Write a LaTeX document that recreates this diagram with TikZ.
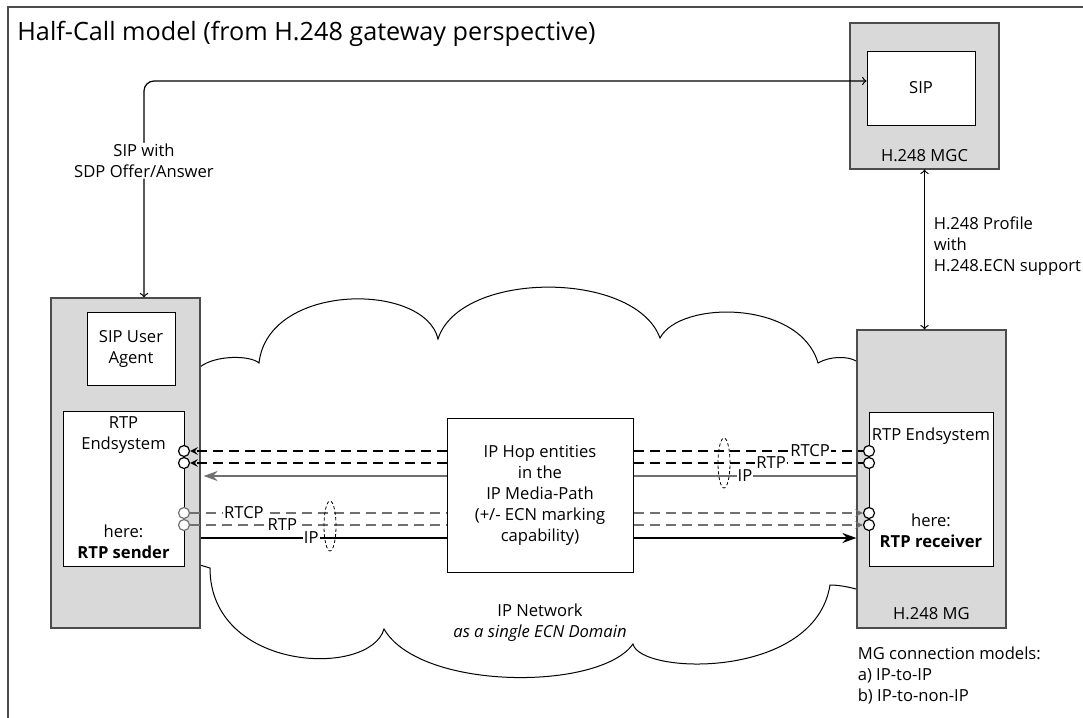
\documentclass[tikz,border=0pt]{standalone}
\usepackage{fontspec}
\setmainfont{Open Sans}
\usepackage{tikz}
\usetikzlibrary{shapes.geometric, arrows, arrows.meta}
\usetikzlibrary{positioning}
\definecolor{boxgray}{HTML}{D9D9D9}
\definecolor{linegray}{HTML}{707070}
\tikzstyle{mgbox} = [rectangle, draw=black!70, fill=boxgray, line width=0.6pt]
\tikzstyle{fnbox} = [rectangle, draw=black, fill=white, line width=0.5pt, text centered, align=center]
\tikzstyle{endport} = [circle, draw=black, fill=white, minimum size=5.5pt, inner sep=0pt, line width=0.6pt]
\tikzstyle{endportg} = [endport, draw=linegray]
\tikzstyle{sigarrow} = [line width=0.6pt, <->, >=to, rounded corners=5pt]
\tikzstyle{media} = [dash pattern=on 5pt off 3pt, line width=0.7pt]
\tikzstyle{iparrow} = [line width=1pt, -{Stealth[length=7pt, width=5pt]}]
\tikzstyle{lbl} = [fill=white, inner sep=0.5pt]
\tikzstyle{bundle} = [ellipse, draw, dash pattern=on 1.6pt off 1.2pt, line width=0.4pt, minimum width=6pt, minimum height=25pt, inner sep=0pt]
\tikzstyle{txt} = [inner sep=0pt, align=center]

\begin{document}
\begin{tikzpicture}[x=0.5pt, y=-0.5pt, font=\fontsize{8.3}{10.5}\selectfont]
  \useasboundingbox (0,0) rectangle (1083,718);
  \draw[black!70, line width=0.6pt] (1083,7) -- (8,7) -- (8,718);
  \node (title) [anchor=base west, inner sep=0pt, font=\fontsize{12.6}{15}\selectfont] at (17,40) {Half-Call model (from H.248 gateway perspective)};

  % IP network cloud
  \draw[line width=0.5pt] (200,367) .. controls (215,355) and (250,355) .. (259,363)
    .. controls (268,282) and (425,282) .. (438,339)
    .. controls (460,270) and (635,270) .. (660,338)
    .. controls (680,300) and (800,300) .. (818,363)
    .. controls (830,356) and (848,356) .. (856,361);
  \draw[line width=0.5pt] (856,589) .. controls (845,586) and (836,585) .. (830,585)
    .. controls (815,680) and (640,675) .. (633,644)
    .. controls (600,691) and (420,691) .. (384,629)
    .. controls (370,678) and (210,672) .. (210,568)
    -- (200,565);
  \node (netlbl) [txt] at (540,623) {IP Network\\\textit{as a single ECN Domain}};

  % boxes
  \node (MGC) [mgbox, minimum width=74.5pt, minimum height=73pt] at (924.5,96) {};
  \node (sipMGC) [fnbox, minimum width=54pt, minimum height=37pt] at (921,88) {SIP};
  \node (MGClbl) [txt] at ([yshift=7pt]MGC.south) {H.248 MGC};

  \node (leftMG) [mgbox, minimum width=74.5pt, minimum height=165pt] at (125.5,463) {};
  \node (sipUA) [fnbox, minimum width=44pt, minimum height=36.5pt] at (131,348.5) {SIP User\\Agent};
  \node (rtpL) [fnbox, minimum width=60.5pt, minimum height=77.5pt] at (123.5,488.5) {};
  \node (rtpLtop) [txt] at ([yshift=-12.25pt]rtpL.north) {RTP\\Endsystem};
  \node (rtpLbot) [txt] at ([yshift=12.5pt]rtpL.south) {here:\\\textbf{RTP sender}};

  \node (rightMG) [mgbox, minimum width=74.5pt, minimum height=149pt] at (931.5,479) {};
  \node (rtpR) [fnbox, minimum width=62pt, minimum height=77pt] at (931,489) {};
  \node (rtpRtop) [txt] at ([yshift=-12.5pt]rtpR.north) {RTP Endsystem};
  \node (rtpRbot) [txt] at ([yshift=18pt]rtpR.south) {here:\\\textbf{RTP receiver}};
  \node (MGlbl) [txt] at ([yshift=7.5pt]rightMG.south) {H.248 MG};
  \node (models) [txt, anchor=north west, align=left] at ([xshift=0.5pt, yshift=-9pt]rightMG.south west) {MG connection models:\\a) IP-to-IP\\b) IP-to-non-IP};

  \node (hop) [fnbox, minimum width=93pt, minimum height=77pt] at (540,495) {IP Hop entities\\in the\\IP Media-Path\\(+/- ECN marking\\capability)};

  % signalling
  \draw[sigarrow] ([yshift=3.5pt]sipMGC.west) -| node [lbl, pos=0.684, align=center] {SIP with\\SDP Offer/Answer} ([xshift=9.25pt]leftMG.north);
  \draw[sigarrow, rounded corners=0pt] (MGC.south) -- node [right, align=left, pos=0.48, xshift=1pt] {H.248 Profile\\with\\H.248.ECN support} (MGC.south |- rightMG.north);

  % ports
  \node (cLrtcp) [endport] at (184,451) {};
  \node (cLrtp) [endport] at (184,463) {};
  \node (cLrtcpG) [endportg] at (184,513) {};
  \node (cLrtpG) [endportg] at (184,525) {};
  \node (cRrtcp) [endport] at (869,451) {};
  \node (cRrtp) [endport] at (869,463) {};
  \node (cRrtcpG) [endport] at (869,513) {};
  \node (cRrtpG) [endport] at (869,525) {};

  % media path receiver -> sender
  \draw[media] (hop.east |- cRrtcp) -- node [lbl, pos=0.77] {RTCP} (cRrtcp.west);
  \draw[media] (hop.east |- cRrtp) -- node [lbl, pos=0.6] {RTP} (cRrtp.west);
  \draw[line width=1pt, linegray] (hop.east |- 0,476) -- node [lbl, pos=0.5, text=black] {IP} (rightMG.west |- 0,476);
  \draw[media, ->, >=stealth] (hop.west |- cLrtcp) -- (cLrtcp.east);
  \draw[media, ->, >=stealth] (hop.west |- cLrtp) -- (cLrtp.east);
  \draw[iparrow, linegray] (hop.west |- 0,476) -- ([xshift=1.5pt]leftMG.east |- 0,476);

  % media path sender -> receiver
  \draw[media, linegray] (cLrtcpG.east) -- node [lbl, pos=0.21, text=black] {RTCP} (hop.west |- cLrtcpG);
  \draw[media, linegray] (cLrtpG.east) -- node [lbl, pos=0.36, text=black] {RTP} (hop.west |- cLrtpG);
  \draw[line width=1pt] (leftMG.east |- 0,538) -- node [lbl, pos=0.45] {IP} (hop.west |- 0,538);
  \draw[media, linegray, ->, >=stealth] (hop.east |- cRrtcpG) -- (cRrtcpG.west);
  \draw[media, linegray, ->, >=stealth] (hop.east |- cRrtpG) -- (cRrtpG.west);
  \draw[iparrow] (hop.east |- 0,538) -- (rightMG.west |- 0,538);

  \node (bundleL) [bundle] at (330,526) {};
  \node (bundleR) [bundle] at (724,463) {};
\end{tikzpicture}
\end{document}
